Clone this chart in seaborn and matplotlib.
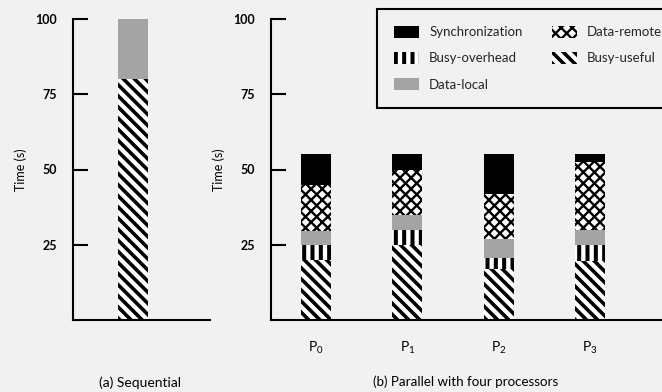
import numpy as np
import pandas as pd
import matplotlib
matplotlib.use("Agg")
import matplotlib.pyplot as plt
import seaborn as sns
from matplotlib.patches import Patch
from matplotlib import font_manager

sns.set_theme(style="white")
BG = "#f1f1f1"
avail = {f.name for f in font_manager.fontManager.ttflist}
fam = [f for f in ["Liberation Sans Narrow", "Lato", "DejaVu Sans"] if f in avail]
plt.rcParams["font.family"] = fam
plt.rcParams["mathtext.default"] = "regular"
plt.rcParams["hatch.linewidth"] = 2.3

# ---------------- data ----------------
seq_categories = ["Sequential"]
seq_busy_useful = [80]
seq_data_local = [20]

processors = ["P0", "P1", "P2", "P3"]
proc_labels = [r"$\mathregular{P_0}$", r"$\mathregular{P_1}$",
               r"$\mathregular{P_2}$", r"$\mathregular{P_3}$"]
busy_useful = [20, 25, 17, 19.5]
busy_overhead = [5, 5, 3.5, 5.5]
data_local = [4.5, 5, 6.5, 5]
data_remote = [15.5, 15, 15, 22.5]
synchronization = [10, 5, 13, 2.5]

y_ticks = [25, 50, 75, 100]

styles = {
    "Busy-useful": dict(facecolor="white", hatch="\\\\\\", hlw=2.6),
    "Busy-overhead": dict(facecolor="white", hatch="||", hlw=2.9),
    "Data-local": dict(facecolor="#a4a4a4", hatch=None, hlw=None),
    "Data-remote": dict(facecolor="white", hatch="xxx", hlw=1.7),
    "Synchronization": dict(facecolor="black", hatch=None, hlw=None),
}


def set_hlw(p, lw):
    if lw is not None and hasattr(p, "set_hatch_linewidth"):
        p.set_hatch_linewidth(lw)


def draw_stack(ax, cats, layers, width):
    bottom = np.zeros(len(cats))
    for name, vals in layers:
        st = styles[name]
        vals = np.asarray(vals, dtype=float)
        df = pd.DataFrame({"cat": cats, "val": vals})
        kw = dict(data=df, x="cat", y="val", ax=ax, order=cats, bottom=bottom.copy(),
                  width=width, color=st["facecolor"], saturation=1,
                  edgecolor="black", linewidth=0, errorbar=None)
        if st["hatch"]:
            kw["hatch"] = st["hatch"]
        with plt.rc_context({"hatch.linewidth": st["hlw"] or 2.3}):
            sns.barplot(**kw)
        for p in ax.containers[-1]:
            set_hlw(p, st["hlw"])
        bottom += vals


fig = plt.figure(figsize=(6.62, 3.92), dpi=100, facecolor=BG)
ax1 = fig.add_axes([73 / 662, 72 / 392, 137 / 662, 301 / 392])
ax2 = fig.add_axes([271 / 662, 72 / 392, 391 / 662, 301 / 392])

draw_stack(ax1, seq_categories,
           [("Busy-useful", seq_busy_useful), ("Data-local", seq_data_local)], 0.8)
draw_stack(ax2, processors,
           [("Busy-useful", busy_useful), ("Busy-overhead", busy_overhead),
            ("Data-local", data_local), ("Data-remote", data_remote),
            ("Synchronization", synchronization)], 0.33)

for ax in (ax1, ax2):
    ax.set_facecolor(BG)
    ax.set_ylim(0, 100)
    ax.set_yticks(y_ticks)
    ax.set_yticklabels([str(t) for t in y_ticks], fontsize=9, fontweight="bold")
    ax.tick_params(axis="y", direction="in", length=11, width=1.5, pad=11.5,
                   colors="black", left=True)
    for s in ("top", "right"):
        ax.spines[s].set_visible(False)
    for s in ("left", "bottom"):
        ax.spines[s].set_color("black")
        ax.spines[s].set_linewidth(1.5)
    ax.set_ylabel("Time (s)", fontsize=9, color="black", labelpad=6)
    ax.set_xlabel("")

ax1.set_xlim(-1.6, 2.053)
ax1.set_xticks([])
ax2.set_xlim(-0.493, 3.79)
ax2.set_xticks(range(len(processors)))
ax2.set_xticklabels(proc_labels, fontsize=10)
ax2.tick_params(axis="x", length=0, pad=14, colors="black", bottom=False)

fig.text(140 / 662, 1 - 383 / 392, "(a) Sequential", ha="center", va="center",
         fontsize=10, color="black")
fig.text(466 / 662, 1 - 382 / 392, "(b) Parallel with four processors",
         ha="center", va="center", fontsize=9.6, color="black")

legend_order = ["Synchronization", "Busy-overhead", "Data-local", "Data-remote", "Busy-useful"]
handles = []
for name in legend_order:
    st = styles[name]
    with plt.rc_context({"hatch.linewidth": st["hlw"] or 2.3}):
        h = Patch(facecolor=st["facecolor"], edgecolor="black", linewidth=0,
                  hatch=st["hatch"])
    set_hlw(h, st["hlw"])
    handles.append(h)
leg = fig.legend(handles, legend_order, loc="upper left",
                 bbox_to_anchor=(377 / 662, 1 - 9 / 392), borderaxespad=0,
                 ncol=2, frameon=True, fancybox=False, edgecolor="black",
                 facecolor=BG, framealpha=1, borderpad=1.3, handlelength=1.9,
                 handleheight=0.95, handletextpad=0.75, columnspacing=2.2,
                 labelspacing=1.05, fontsize=9.5)
leg.get_frame().set_linewidth(1.5)
for p, name in zip(leg.get_patches(), legend_order):
    set_hlw(p, styles[name]["hlw"])

fig.savefig("out.png", dpi=100, facecolor=BG)
